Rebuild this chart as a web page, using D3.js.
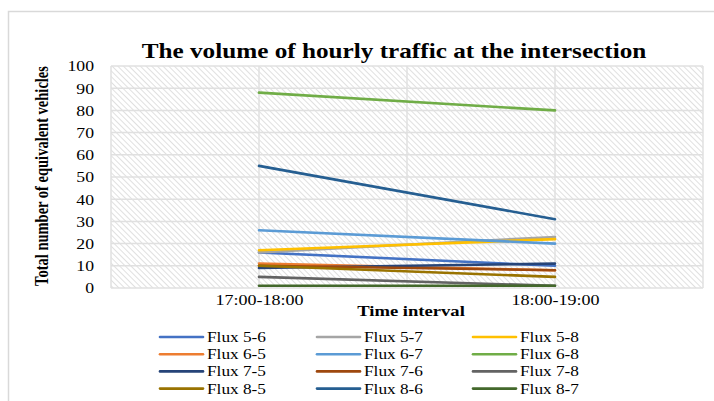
<!DOCTYPE html>
<html>
<head>
<meta charset="utf-8">
<script src="https://cdn.jsdelivr.net/npm/d3@7"></script>
<style>
  body { margin: 0; background: #fff; }
  svg text { font-family: "Liberation Serif", "Times New Roman", "DejaVu Serif", serif !important; fill: #000; }
</style>
</head>
<body>
<svg id="chart" width="714" height="401"></svg>
<script>
// chart data
var categories = ["17:00-18:00", "18:00-19:00"];
var seriesNames = ["Flux 5-6", "Flux 5-7", "Flux 5-8", "Flux 6-5", "Flux 6-7", "Flux 6-8",
                   "Flux 7-5", "Flux 7-6", "Flux 7-8", "Flux 8-5", "Flux 8-6", "Flux 8-7"];
var seriesValues = [
  [16, 10],
  [16, 23],
  [17, 22],
  [11, 8],
  [26, 20],
  [88, 80],
  [9, 11],
  [10, 8],
  [5, 1],
  [10, 5],
  [55, 31],
  [1, 1]
];
var seriesColors = ["#4472C4", "#A5A5A5", "#FFC000", "#ED7D31", "#5B9BD5", "#70AD47",
                    "#264478", "#9E480E", "#636363", "#997300", "#255E91", "#43682B"];
var yTicks = [0, 10, 20, 30, 40, 50, 60, 70, 80, 90, 100];

var svg = d3.select("#chart");

// the source picture is a bit stretched sideways, so widen the glyphs too
function widen(sel, k) {
  sel.each(function () {
    var w = this.getComputedTextLength();
    d3.select(this).attr("textLength", w * k).attr("lengthAdjust", "spacingAndGlyphs");
  });
}

// outer chart frame
svg.append("rect")
  .attr("x", 8.5).attr("y", 11.5)
  .attr("width", 714).attr("height", 400)
  .attr("fill", "#fff").attr("stroke", "#d9d9d9").attr("stroke-width", 1.5);

var plot = {left: 111, right: 703, top: 66, bottom: 288};

var x = d3.scalePoint().domain(categories).range([plot.left, plot.right]).padding(0.5);
var y = d3.scaleLinear().domain([0, 100]).range([plot.bottom, plot.top]);

// hatched plot background
var defs = svg.append("defs");
var pat = defs.append("pattern")
  .attr("id", "hatch")
  .attr("patternUnits", "userSpaceOnUse")
  .attr("width", 4).attr("height", 4)
  .attr("patternTransform", "rotate(-45)");
pat.append("rect").attr("width", 4).attr("height", 4).attr("fill", "#fff");
pat.append("line")
  .attr("x1", 0).attr("y1", 0).attr("x2", 0).attr("y2", 4)
  .attr("stroke", "#cfcfcf").attr("stroke-width", 1.3);

svg.append("rect")
  .attr("x", plot.left).attr("y", plot.top)
  .attr("width", plot.right - plot.left).attr("height", plot.bottom - plot.top)
  .attr("fill", "url(#hatch)");

// gridlines
var step = x.step();
var xGrid = [plot.left];
categories.forEach(function (c) { xGrid.push(x(c)); xGrid.push(x(c) + step / 2); });

svg.append("g").selectAll("line")
  .data(yTicks)
  .enter().append("line")
  .attr("x1", plot.left).attr("x2", plot.right)
  .attr("y1", d => y(d)).attr("y2", d => y(d))
  .attr("stroke", "#e0e0e0").attr("stroke-width", 1.5);

svg.append("g").selectAll("line")
  .data(xGrid)
  .enter().append("line")
  .attr("x1", d => d).attr("x2", d => d)
  .attr("y1", plot.top).attr("y2", plot.bottom)
  .attr("stroke", "#e0e0e0").attr("stroke-width", 1.5);

// y axis
var yAxis = svg.append("g")
  .attr("transform", "translate(" + (plot.left - 17) + ",0)")
  .call(d3.axisLeft(y).tickValues(yTicks).tickSize(0).tickPadding(0));
yAxis.select(".domain").remove();
yAxis.attr("font-family", null);
yAxis.selectAll("text")
  .style("font-size", "15px")
  .attr("fill", "#000");
widen(yAxis.selectAll("text"), 1.18);

// x axis
var xAxis = svg.append("g")
  .attr("transform", "translate(0," + plot.bottom + ")")
  .call(d3.axisBottom(x).tickSize(0).tickPadding(6));
xAxis.select(".domain").remove();
xAxis.attr("font-family", null);
xAxis.selectAll("text")
  .style("font-size", "15px")
  .attr("fill", "#000");
widen(xAxis.selectAll("text"), 1.2);

// lines
var line = d3.line()
  .x((d, i) => x(categories[i]))
  .y(d => y(d));

svg.append("g").selectAll("path")
  .data(seriesValues)
  .enter().append("path")
  .attr("d", d => line(d))
  .attr("fill", "none")
  .attr("stroke", (d, i) => seriesColors[i])
  .attr("stroke-width", 2.6)
  .attr("stroke-linecap", "round");

// titles
var title = svg.append("text")
  .attr("x", 394).attr("y", 58)
  .attr("text-anchor", "middle")
  .style("font-size", "21px").style("font-weight", "bold")
  .text("The volume of hourly traffic at the intersection");
widen(title, 1.2);

// rotated label: the sideways stretch makes the glyphs taller on screen
svg.append("text")
  .attr("transform", "translate(48,176) scale(1.25,1) rotate(-90)")
  .attr("text-anchor", "middle")
  .style("font-size", "14.5px").style("font-weight", "bold")
  .text("Total number of equivalent vehicles");

var xTitle = svg.append("text")
  .attr("x", 411).attr("y", 316)
  .attr("text-anchor", "middle")
  .style("font-size", "15.5px").style("font-weight", "bold")
  .text("Time interval");
widen(xTitle, 1.2);

// legend, 3 columns
var legCols = [160, 317, 473];
var legend = svg.append("g").selectAll("g")
  .data(seriesNames)
  .enter().append("g")
  .attr("transform", (d, i) => "translate(" + legCols[i % 3] + "," + (337 + Math.floor(i / 3) * 17.2) + ")");

legend.append("line")
  .attr("x1", 0).attr("x2", 43).attr("y1", 0).attr("y2", 0)
  .attr("stroke", (d, i) => seriesColors[i])
  .attr("stroke-width", 2.6)
  .attr("stroke-linecap", "round");

legend.append("text")
  .attr("x", 47).attr("y", 5)
  .style("font-size", "15px")
  .text(d => d);
widen(legend.selectAll("text"), 1.15);
</script>
</body>
</html>
